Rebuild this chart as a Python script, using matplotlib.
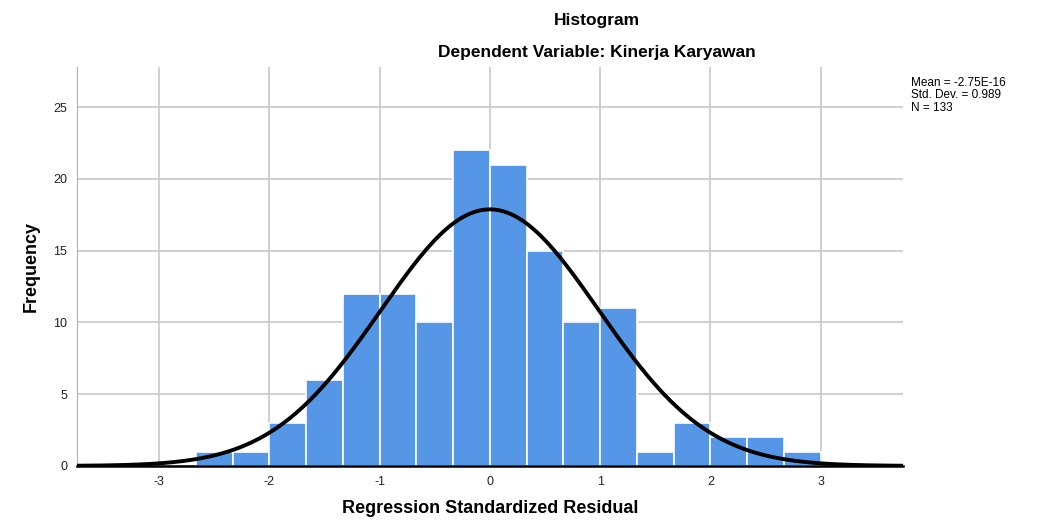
import numpy as np
import matplotlib
matplotlib.use("Agg")
import matplotlib.pyplot as plt

bin_edges = [-8/3, -7/3, -2, -5/3, -4/3, -1, -2/3, -1/3, 0, 1/3, 2/3, 1, 4/3, 5/3, 2, 7/3, 8/3, 3]
counts = [1, 1, 3, 6, 12, 12, 10, 22, 21, 15, 10, 11, 1, 3, 2, 2, 1]
mean = -2.75e-16
std = 0.989
n = 133
x_ticks = [-3, -2, -1, 0, 1, 2, 3]
y_ticks = [0, 5, 10, 15, 20, 25]

plt.rcParams['font.family'] = ['Liberation Sans', 'DejaVu Sans']
plt.rcParams['axes.unicode_minus'] = False

fig = plt.figure(figsize=(10.4, 5.2), dpi=100)
ax = fig.add_axes([0.074, 0.104, 0.794, 0.767])

edges = np.array(bin_edges)
widths = np.diff(edges)
ax.bar(edges[:-1], counts, width=widths, align='edge', color='#5596e6',
       edgecolor='white', linewidth=1.2, zorder=2)

# curva normal
bw = widths.mean()
xs = np.linspace(-3.75, 3.75, 400)
ys = n * bw * np.exp(-0.5 * ((xs - mean) / std) ** 2) / (std * np.sqrt(2 * np.pi))
ax.plot(xs, ys, color='black', linewidth=2.8, zorder=3)

ax.set_xlim(-3.745, 3.745)
ax.set_ylim(0, 27.8)
ax.set_xticks(x_ticks)
ax.set_yticks(y_ticks)
ax.grid(True, color='#c8c8c8', linewidth=1.2, zorder=0)
ax.set_axisbelow(True)
ax.tick_params(length=0, labelsize=9, colors='#222222', pad=7)

for s in ['top', 'right']:
    ax.spines[s].set_visible(False)
ax.spines['left'].set_color('#b0b0b0')
ax.spines['bottom'].set_color('black')
ax.spines['bottom'].set_linewidth(1.8)

ax.set_xlabel('Regression Standardized Residual', fontsize=13, fontweight='bold', labelpad=9)
ax.set_ylabel('Frequency', fontsize=13, fontweight='bold', labelpad=10,
              family=['Liberation Sans Narrow', 'Liberation Sans'])

fig.text(0.574, 0.960, 'Histogram', ha='center', va='center', fontsize=12.5, fontweight='bold')
fig.text(0.574, 0.899, 'Dependent Variable: Kinerja Karyawan', ha='center', va='center',
         fontsize=12.5, fontweight='bold')

fig.text(0.876, 0.817, 'Mean = -2.75E-16\nStd. Dev. = 0.989\nN = 133', ha='left', va='center',
         fontsize=8.5, linespacing=1.05)

fig.savefig('out.png', dpi=100)
